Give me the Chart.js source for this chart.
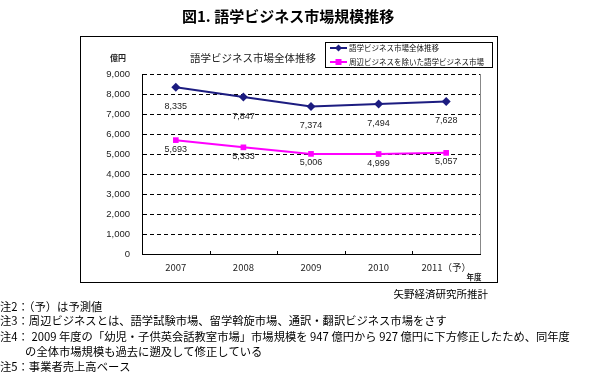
<!DOCTYPE html>
<html>
<head>
<meta charset="utf-8">
<script src="https://cdn.jsdelivr.net/npm/chart.js@4.4.1/dist/chart.umd.min.js"></script>
<style>
  html, body { margin: 0; padding: 0; background: #fff; }
  #wrap { width: 600px; height: 375px; }
</style>
</head>
<body>
<div id="wrap"><canvas id="chart" width="600" height="375"></canvas></div>
<script>
// data
const years = ['2007', '2008', '2009', '2010', '2011（予）'];
const totalMarket = [8335, 7847, 7374, 7494, 7628];
const coreMarket = [5693, 5333, 5006, 4999, 5057];
const seriesNames = ['語学ビジネス市場全体推移', '周辺ビジネスを除いた語学ビジネス市場'];
const yTicks = [0, 1000, 2000, 3000, 4000, 5000, 6000, 7000, 8000, 9000];

const titleText = '図1. 語学ビジネス市場規模推移';
const innerTitle = '語学ビジネス市場全体推移';
const sourceText = '矢野経済研究所推計';
const notes = [
  '注2：（予）は予測値',
  '注3：周辺ビジネスとは、語学試験市場、留学斡旋市場、通訳・翻訳ビジネス市場をさす',
  '注4： 2009 年度の「幼児・子供英会話教室市場」市場規模を 947 億円から 927 億円に下方修正したため、同年度',
  '　　 の全体市場規模も過去に遡及して修正している',
  '注5：事業者売上高ベース',
];

const JP = '"Noto Sans CJK JP", sans-serif';
const NUM = '"Liberation Sans", Arial, sans-serif';

const fmt = v => v.toLocaleString('en-US');

// everything around the plot: frame, titles, legend, labels, notes
const decorations = {
  id: 'decorations',
  afterDatasetsDraw(chart) {
    const ctx = chart.ctx;
    // data labels under the points
    const offsets = [19, 9];
    chart.data.datasets.forEach((ds, di) => {
      const meta = chart.getDatasetMeta(di);
      ctx.save();
      ctx.font = '9px ' + NUM;
      ctx.fillStyle = '#222';
      ctx.textAlign = 'center';
      ctx.textBaseline = 'middle';
      meta.data.forEach((pt, i) => {
        ctx.fillText(fmt(ds.data[i]), pt.x, pt.y + offsets[di]);
      });
      ctx.restore();
    });
  },
  afterDraw(chart) {
    const ctx = chart.ctx;
    const area = chart.chartArea;
    const xs = chart.scales.x;
    ctx.save();

    // main title
    ctx.fillStyle = '#000';
    ctx.font = 'bold 15px ' + JP;
    ctx.textBaseline = 'middle';
    ctx.textAlign = 'left';
    ctx.fillText(titleText, 182, 16);

    // outer frame
    ctx.strokeStyle = '#000';
    ctx.lineWidth = 1;
    ctx.strokeRect(80.5, 36.5, 417, 246);

    // plot right edge
    ctx.strokeStyle = '#888';
    ctx.beginPath();
    ctx.moveTo(Math.round(area.right) + 0.5, area.top);
    ctx.lineTo(Math.round(area.right) + 0.5, area.bottom);
    ctx.stroke();

    // small tick marks between categories
    ctx.strokeStyle = '#000';
    ctx.beginPath();
    for (let i = 1; i < years.length; i++) {
      const x = Math.round((xs.getPixelForTick(i - 1) + xs.getPixelForTick(i)) / 2) + 0.5;
      ctx.moveTo(x, area.bottom);
      ctx.lineTo(x, area.bottom - 3);
    }
    ctx.stroke();

    // unit and inner title
    ctx.textAlign = 'center';
    ctx.font = 'bold 8px ' + JP;
    ctx.fillStyle = '#222';
    ctx.fillText('億円', 118, 58);
    ctx.font = '10.5px ' + JP;
    ctx.fillText(innerTitle, 253, 58);
    ctx.font = 'bold 7.5px ' + JP;
    ctx.fillText('年度', 474, 277);

    // legend
    ctx.strokeStyle = '#000';
    ctx.strokeRect(325.5, 42.5, 167, 25);
    const rows = [48, 62];
    chart.data.datasets.forEach((ds, di) => {
      const y = rows[di];
      ctx.strokeStyle = ds.borderColor;
      ctx.lineWidth = 2;
      ctx.beginPath();
      ctx.moveTo(330, y);
      ctx.lineTo(347, y);
      ctx.stroke();
      ctx.fillStyle = ds.backgroundColor;
      ctx.beginPath();
      if (ds.pointStyle === 'rectRot') {
        ctx.moveTo(338.5, y - 3.5);
        ctx.lineTo(342, y);
        ctx.lineTo(338.5, y + 3.5);
        ctx.lineTo(335, y);
        ctx.closePath();
      } else {
        ctx.rect(335.5, y - 3, 6, 6);
      }
      ctx.fill();
      ctx.fillStyle = '#111';
      ctx.font = '7.5px ' + JP;
      ctx.textAlign = 'left';
      ctx.fillText(ds.label, 349, y);
    });

    // source
    ctx.fillStyle = '#000';
    ctx.font = '10.5px ' + JP;
    ctx.textAlign = 'right';
    ctx.fillText(sourceText, 488, 294);

    // notes
    ctx.textAlign = 'left';
    ctx.font = '11.3px ' + JP;
    const noteY = [307, 321, 337, 352, 367];
    notes.forEach((t, i) => ctx.fillText(t, 0, noteY[i]));

    ctx.restore();
  }
};

const ctx = document.getElementById('chart').getContext('2d');
new Chart(ctx, {
  type: 'line',
  data: {
    labels: years,
    datasets: [
      {
        label: seriesNames[0],
        data: totalMarket,
        borderColor: '#1c1c80',
        backgroundColor: '#1c1c80',
        borderWidth: 2,
        pointStyle: 'rectRot',
        pointRadius: 4.5,
        pointBorderWidth: 0,
        tension: 0,
      },
      {
        label: seriesNames[1],
        data: coreMarket,
        borderColor: '#ff00ff',
        backgroundColor: '#ff00ff',
        borderWidth: 2,
        pointStyle: 'rect',
        pointRadius: 4,
        pointBorderWidth: 0,
        tension: 0,
      },
    ],
  },
  options: {
    responsive: false,
    animation: false,
    layout: { padding: { left: 80, right: 120, top: 74, bottom: 97 } },
    plugins: {
      legend: { display: false },
      tooltip: { enabled: false },
    },
    scales: {
      x: {
        offset: true,
        afterFit: s => { s.height = 24; },
        grid: { display: false, drawTicks: false },
        border: { display: true, color: '#000', width: 1 },
        ticks: { padding: 8, color: '#222', font: { family: JP, size: 9.5 }, maxRotation: 0 },
      },
      y: {
        min: 0,
        max: 9000,
        afterFit: s => { s.width = 62; },
        afterBuildTicks: s => { s.ticks = yTicks.map(v => ({ value: v })); },
        grid: {
          drawTicks: false,
          color: c => (c.tick && c.tick.value === 0 ? 'rgba(0,0,0,0)' : '#000'),
          lineWidth: 1,
        },
        border: { display: true, color: '#000', width: 1, dash: [4, 3] },
        ticks: {
          padding: 12,
          color: '#222',
          font: { family: NUM, size: 9.5 },
          callback: v => fmt(v),
        },
      },
    },
  },
  plugins: [decorations],
});
</script>
</body>
</html>
